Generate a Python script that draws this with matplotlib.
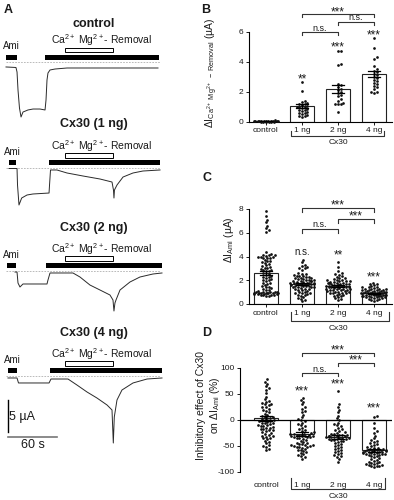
import numpy as np
import matplotlib
matplotlib.use('Agg')
import matplotlib.pyplot as plt
from matplotlib.patches import Rectangle
from matplotlib.lines import Line2D

plt.rcParams['font.family'] = ['Liberation Sans', 'DejaVu Sans']
plt.rcParams['mathtext.fontset'] = 'custom'
plt.rcParams['mathtext.rm'] = 'Liberation Sans'
plt.rcParams['mathtext.it'] = 'Liberation Sans:italic'
plt.rcParams['mathtext.bf'] = 'Liberation Sans:bold'
plt.rcParams['mathtext.default'] = 'regular'

# ---------------- Panel A data: current traces (time in s, current in µA rel. to baseline)
trace_names = ['control', 'Cx30 (1 ng)', 'Cx30 (2 ng)', 'Cx30 (4 ng)']
t_control = [0, 12.2, 13.5, 14.7, 16.5, 18.4, 20.8, 26.9, 33.1, 41.6, 47.8, 49.0, 50.2, 51.4, 53.9, 60.0, 74.7, 115.1, 186.1]
i_control = [-0.73, -0.81, -1.52, -4.33, -7.14, -8.55, -7.77, -7.45, -7.30, -7.30, -7.45, -5.89, -2.77, -1.67, -1.20, -1.05, -0.89, -0.89, -0.89]
t_1ng = [3.7, 13.5, 14.1, 15.9, 19.2, 25.7, 33.1, 52.7, 53.3, 54.5, 62.4, 74.7, 94.3, 115.1, 129.8, 131.6, 132.2, 132.8, 135.9, 143.3, 155.5, 167.7, 188.6]
i_1ng = [-0.08, -0.08, -2.66, -5.78, -4.69, -4.22, -4.06, -3.91, -2.66, -0.31, -0.31, -0.78, -1.25, -1.72, -2.19, -3.44, -4.69, -3.44, -2.66, -1.41, -0.78, -0.47, -0.31]
t_2ng = [11.0, 13.5, 14.7, 17.1, 20.8, 35.5, 50.2, 51.4, 53.9, 66.1, 82.0, 90.6, 102.8, 115.1, 127.3, 131.0, 132.2, 133.4, 134.7, 139.6, 151.8, 164.0, 179.9, 191.0]
i_2ng = [-0.16, -0.16, -1.88, -2.5, -2.03, -2.03, -2.03, -1.41, -0.31, -0.31, -0.31, -0.94, -2.19, -2.97, -3.75, -4.53, -6.25, -5.0, -4.53, -2.97, -1.72, -0.94, -0.47, -0.31]
t_4ng = [2.4, 13.5, 15.3, 23.3, 52.7, 55.1, 75.9, 86.9, 99.2, 111.4, 123.7, 129.8, 131.4, 132.6, 135.9, 142.0, 155.5, 172.7, 191.0]
i_4ng = [-0.31, -0.31, -1.09, -1.09, -1.09, -0.47, -0.47, -1.41, -2.5, -3.44, -4.53, -5.31, -10.47, -6.41, -3.75, -2.19, -1.09, -0.47, -0.31]
ami_periods = [(0, 13.5), (3.7, 12.2), (1.2, 12.2), (2.4, 13.5)]
perfusion_periods = [(47.7, 187.3), (52.6, 188.6), (49.0, 191.0), (53.9, 191.0)]
removal_period = (72.2, 131.0)
baseline_span = (0, 188)
scale_current = 5   # µA
scale_time = 60     # s

# ---------------- Panels B-D data
categories = ['control', '1 ng', '2 ng', '4 ng']

b_control = [0.08, 0.06, 0.05, 0.05, 0.04, 0.04, 0.03, 0.03, 0.02, 0.02, 0.02, 0.01, 0.01, 0.0, 0.0, -0.01, -0.02, -0.03, -0.04]
b_1ng = [2.65, 2.05, 1.35, 1.3, 1.25, 1.2, 1.15, 1.1, 1.05, 1.0, 1.0, 0.95, 0.9, 0.85, 0.8, 0.75, 0.7, 0.65, 0.6, 0.55, 0.5, 0.45, 0.4, 0.35, 0.3]
b_2ng = [4.75, 4.7, 3.85, 3.8, 2.5, 2.45, 2.3, 2.2, 2.1, 2.0, 1.9, 1.8, 1.7, 1.5, 1.4, 1.25, 1.2, 1.2, 1.15, 0.65]
b_4ng = [5.6, 4.9, 4.3, 4.2, 3.7, 3.5, 3.4, 3.3, 3.2, 3.1, 3.0, 2.9, 2.8, 2.7, 2.6, 2.5, 2.4, 2.3, 2.2, 2.0, 1.95, 1.9]
b_means = [0.02, 1.02, 2.18, 3.17]
b_sems = [0.01, 0.12, 0.25, 0.22]

c_control = [7.8, 7.4, 7.1, 6.9, 6.6, 6.4, 6.2, 6.1,
             4.4, 4.2, 4.15, 4.1, 4.1, 4.05, 4.0, 4.0, 3.95, 3.9, 3.9, 3.85,
             3.7, 3.65, 3.6, 3.5, 3.45, 3.4,
             3.25, 3.2, 3.1, 3.05, 3.0, 2.95, 2.9, 2.85, 2.8, 2.8,
             2.6, 2.5, 2.45, 2.4, 2.3, 2.25, 2.2, 2.1, 2.05, 2.0,
             1.9, 1.8, 1.75, 1.7, 1.6, 1.5, 1.45, 1.4, 1.35, 1.3,
             1.2, 1.15, 1.1, 1.05, 1.0, 1.0, 0.95, 0.95, 0.9, 0.9, 0.85, 0.85, 0.8, 0.75, 0.7, 0.65,
             0.8, 0.85, 0.9, 0.95, 1.0, 0.8, 0.9, 1.0, 0.85, 0.95]
c_1ng = [3.7, 3.5, 3.25, 3.2, 3.1, 3.05, 3.0, 2.9,
         2.6, 2.55, 2.5, 2.45, 2.4, 2.4, 2.35, 2.3,
         2.25, 2.2, 2.2, 2.15, 2.1, 2.1, 2.05, 2.0, 2.0, 1.95, 1.95, 1.9, 1.9, 1.85, 1.85, 1.8, 1.8, 1.8,
         1.75, 1.75, 1.7, 1.7, 1.7, 1.65, 1.65, 1.6, 1.6, 1.55, 1.55, 1.5, 1.5, 1.45, 1.45, 1.4, 1.4, 1.35, 1.3, 1.3,
         1.25, 1.2, 1.15, 1.1, 1.05, 1.0, 0.95, 0.9, 0.9, 0.85, 0.8, 0.8,
         0.7, 0.6, 0.5, 0.45, 0.35, 0.25]
c_2ng = [3.5, 3.1, 2.75, 2.6, 2.5, 2.45, 2.35, 2.3, 2.2, 2.15, 2.1, 2.05, 2.0, 2.0, 1.95, 1.9, 1.9, 1.85, 1.85,
         1.8, 1.8, 1.75, 1.75, 1.7, 1.7, 1.65, 1.65, 1.6, 1.6, 1.6, 1.55, 1.55, 1.5, 1.5, 1.5, 1.45, 1.45, 1.4,
         1.4, 1.35, 1.35, 1.3, 1.3, 1.25, 1.25, 1.2, 1.2, 1.15, 1.15, 1.1, 1.1, 1.05, 1.0, 1.0, 0.95, 0.95, 0.9,
         0.9, 0.85, 0.8, 0.75, 0.7, 0.65, 0.6, 0.5, 0.4, 0.35]
c_4ng = [1.8, 1.7, 1.7, 1.6, 1.5, 1.45, 1.4, 1.4, 1.35, 1.3, 1.3, 1.25, 1.25, 1.2, 1.2, 1.15, 1.15, 1.1, 1.1,
         1.1, 1.05, 1.05, 1.0, 1.0, 1.0, 0.95, 0.95, 0.95, 0.9, 0.9, 0.9, 0.9, 0.85, 0.85, 0.85, 0.8, 0.8, 0.8,
         0.8, 0.75, 0.75, 0.75, 0.7, 0.7, 0.7, 0.65, 0.65, 0.6, 0.6, 0.55, 0.55, 0.5, 0.5, 0.45, 0.4, 0.35, 0.3, 0.25]
c_means = [2.62, 1.72, 1.52, 0.92]
c_sems = [0.2, 0.08, 0.07, 0.04]

d_control = [78, 74, 70, 65, 62, 58, 52, 45, 40, 36, 32, 30, 28, 25, 22, 20, 18, 15, 12, 10, 8, 6, 5, 3, 2, 0,
             -1, -2, -3, -5, -6, -8, -10, -11, -12, -14, -15, -17, -18, -20, -22, -24, -25, -27, -28, -30, -32,
             -34, -35, -37, -40, -42, -45, -48, -50, -52, -55, -58, 4, 0, -5, -10, -15, 25, 30, 35, -20, -30]
d_1ng = [42, 38, 35, 30, 25, 22, 18, 15, 10, 5, 2, 0, -2, -5, -8, -10, -12, -15, -18, -20, -22, -24, -25, -26,
         -27, -28, -28, -29, -30, -30, -31, -32, -33, -34, -35, -36, -38, -40, -42, -44, -45, -46, -47, -48, -49,
         -50, -50, -51, -52, -53, -55, -57, -58, -60, -62, -64, -66, -68, -70, -72, -75, -26, -28, -30, -32, -48, -52]
d_2ng = [55, 30, 25, 20, 15, 8, 3, 0, -5, -8, -10, -12, -15, -18, -20, -22, -24, -25, -26, -27, -28, -29, -30, -30,
         -31, -32, -33, -34, -35, -36, -37, -38, -39, -40, -42, -44, -46, -48, -50, -52, -54, -56, -58, -60, -62,
         -64, -66, -68, -70, -72, -75, -80, -28, -30, -32, -34, -36, -40]
d_4ng = [8, 5, -5, -15, -22, -25, -30, -35, -38, -40, -42, -45, -47, -48, -50, -52, -53, -54, -55, -56, -57, -58,
         -58, -59, -60, -60, -61, -62, -62, -63, -64, -65, -65, -66, -67, -68, -69, -70, -72, -74, -75, -76, -78,
         -80, -81, -82, -83, -84, -85, -86, -87, -88, -88, -89, -90, -60, -62, -64, -66, -58]
d_means = [3, -27, -33, -58]
d_sems = [4, 4, 4, 3]

b_stars = ['', '**', '***', '***']
c_stars = ['', 'n.s.', '**', '***']
d_stars = ['', '***', '***', '***']

# ---------------- layout helpers
W, H = 394, 500
fig = plt.figure(figsize=(W / 100, H / 100), dpi=100)
TXT = '#1a1a1a'
STAR_FS = 8.5


def fx(x):
    return x / W


def fy(y):
    return 1 - y / H


def add_ax(x0, y0, x1, y1):
    return fig.add_axes([x0 / W, 1 - y1 / H, (x1 - x0) / W, (y1 - y0) / H])


def fig_line(xs, ys, **kw):
    fig.add_artist(Line2D([fx(x) for x in xs], [fy(y) for y in ys], transform=fig.transFigure, **kw))


# ---------------- Panel A
PXS = 49 / 60.0   # px per second
PXU = 32 / 5.0    # px per µA
traces = [(t_control, i_control), (t_1ng, i_1ng), (t_2ng, i_2ng), (t_4ng, i_4ng)]
a_layout = [(30, 122, 62.3, 24), (138, 212, 168, 124), (238, 318, 271, 228), (342, 456, 376, 333)]
fig.text(fx(8), fy(10), 'A', fontsize=9, fontweight='bold', ha='center', va='center', color=TXT)
for k, ((tt, ii), (top, bot, base, ty)) in enumerate(zip(traces, a_layout)):
    ax = add_ax(0, top, 170, bot)
    ax.set_xlim(-6 / PXS, 164 / PXS)
    ax.set_ylim(-(bot - base) / PXU, (base - top) / PXU)
    ax.axis('off')
    ax.plot(baseline_span, [0, 0], ls=(0, (2, 1.5)), color='#b0b0b0', lw=0.6)
    ax.plot(tt, ii, color='#2a2a2a', lw=0.7)
    a0, a1 = ami_periods[k]
    p0, p1 = perfusion_periods[k]
    ax.add_patch(Rectangle((a0, 0.4), a1 - a0, 0.8, color='k', lw=0))
    ax.add_patch(Rectangle((p0, 0.4), p1 - p0, 0.8, color='k', lw=0))
    r0, r1 = removal_period
    ax.add_patch(Rectangle((r0, 1.55), r1 - r0, 0.75, facecolor='white', edgecolor='k', lw=0.7))
    ax.text((a0 + a1) / 2, 2.55, 'Ami', ha='center', va='center', fontsize=7, color=TXT)
    ax.text(117.5, 3.4, r'Ca$^{2+}$ Mg$^{2+}$- Removal', ha='center', va='center', fontsize=7.5, color=TXT)
    fig.text(fx(94), fy(ty), trace_names[k], ha='center', va='center', fontsize=9, fontweight='bold', color=TXT)
    if k == 3:
        x0 = (8 - 6) / PXS
        ax.plot([x0, x0], [-(400 - base) / PXU, -(400 - base) / PXU - scale_current], color='k', lw=1.0)
        yh = -(437 - base) / PXU
        ax.plot([x0, x0 + scale_time], [yh, yh], color='#777777', lw=1.2)
        ax.text(x0 + 1.5, -(417 - base) / PXU, '5 µA', fontsize=9, ha='left', va='center', color=TXT)
        ax.text(x0 + 30, -(445 - base) / PXU, '60 s', fontsize=9, ha='center', va='center', color=TXT)


# ---------------- Panels B-D
def swarm(ax, xc, values, dot=2.7, step=1.35, maxhalf=13):
    vals = np.asarray(values, dtype=float)
    pts = ax.transData.transform(np.column_stack([np.full(len(vals), xc), vals]))
    ys = pts[:, 1]
    x0px = pts[0, 0]
    order = np.argsort(ys)
    placed = []
    offs = np.zeros(len(vals))
    for i in order:
        y = ys[i]
        best = None
        for kk in range(0, 40):
            cands = [0.0] if kk == 0 else [kk * step, -kk * step]
            ok = None
            for c in cands:
                if abs(c) > maxhalf:
                    continue
                if all((c - px) ** 2 + (y - py) ** 2 >= dot ** 2 for px, py in placed if abs(py - y) < dot):
                    ok = c
                    break
            if ok is not None:
                best = ok
                break
        if best is None:
            best = ((len(placed) * 7) % (2 * maxhalf)) - maxhalf
        placed.append((best, y))
        offs[i] = best
    xs_px = x0px + offs
    back = ax.transData.inverted().transform(np.column_stack([xs_px, ys]))
    return back[:, 0]


def bar_panel(ax, groups, means, sems, ylim, yticks, yticklabels):
    xs = np.arange(len(categories))
    ax.set_ylim(*ylim)
    ax.bar(xs, means, width=0.68, facecolor='white', edgecolor='#222222', lw=0.8, zorder=1)
    for x, g in zip(xs, groups):
        px = swarm(ax, x, g)
        ax.scatter(px, g, s=3.8, color='#111111', lw=0, zorder=3, clip_on=False)
    for x, m, s in zip(xs, means, sems):
        ax.plot([x, x], [m - s, m + s], color='k', lw=0.9, zorder=4)
        for yy in (m - s, m + s):
            ax.plot([x - 0.16, x + 0.16], [yy, yy], color='k', lw=0.9, zorder=4)
    ax.spines['top'].set_visible(False)
    ax.spines['right'].set_visible(False)
    ax.spines['left'].set_linewidth(0.8)
    ax.spines['bottom'].set_linewidth(0.8)
    ax.set_yticks(yticks)
    ax.set_yticklabels(yticklabels)
    ax.set_xticks(xs)
    ax.set_xticklabels(categories)
    ax.tick_params(axis='y', length=2.5, width=0.7, labelsize=6, pad=1.5, colors=TXT)
    ax.tick_params(axis='x', length=2, width=0.7, labelsize=6, pad=2, colors=TXT)


def sig(ax, x0, x1, y, leg, text, ty):
    ax.plot([x0, x0, x1, x1], [y - leg, y, y, y - leg], color='#333333', lw=0.8, clip_on=False)
    fs = STAR_FS if text.startswith('*') else 6.5
    ax.text((x0 + x1) / 2, ty, text, ha='center', va='center', fontsize=fs, color=TXT)


def stars(ax, labels, ys, shift):
    for x, s, yy in zip(range(4), labels, ys):
        if s:
            if s.startswith('*'):
                ax.text(x, yy - shift, s, ha='center', va='center', fontsize=STAR_FS, color=TXT)
            else:
                ax.text(x, yy, s, ha='center', va='center', fontsize=7, color=TXT)


# B
axB = add_ax(249, 32, 392, 121.5)
axB.set_xlim(-(266 - 249) / 36.0, 3.5)
bar_panel(axB, [b_control, b_1ng, b_2ng, b_4ng], b_means, b_sems, (0, 6), [0, 2, 4, 6], ['0', '2', '4', '6'])
sig(axB, 1, 3, 7.18, 0.2, '***', 7.3)
sig(axB, 2, 3, 6.64, 0.2, 'n.s.', 6.95)
sig(axB, 1, 2, 5.97, 0.2, 'n.s.', 6.25)
stars(axB, b_stars, [0, 3.0, 5.1, 5.9], 0.15)
fig.text(fx(206), fy(10), 'B', fontsize=9, fontweight='bold', ha='center', va='center', color=TXT)
fig.text(fx(212), fy(73), r'$\Delta$I$_{Ca^{2+}\ Mg^{2+}\ -\ Removal}$ (µA)', rotation=90,
         ha='center', va='center', fontsize=7.5, color=TXT)
fig_line([291, 291, 384, 384], [131, 136, 136, 131], color='#333333', lw=0.8)
fig.text(fx(338), fy(143), 'Cx30', fontsize=6, ha='center', va='center', color=TXT)

# C
axC = add_ax(249, 209, 392, 304)
axC.set_xlim(-(266 - 249) / 36.0, 3.5)
bar_panel(axC, [c_control, c_1ng, c_2ng, c_4ng], c_means, c_sems, (0, 8), [0, 2, 4, 6, 8], ['0', '2', '4', '6', '8'])
sig(axC, 1, 3, 8.08, 0.3, '***', 8.3)
sig(axC, 2, 3, 7.16, 0.3, '***', 7.35)
sig(axC, 1, 2, 6.32, 0.3, 'n.s.', 6.7)
stars(axC, c_stars, [0, 4.4, 4.25, 2.35], 0.15)
fig.text(fx(207), fy(178), 'C', fontsize=9, fontweight='bold', ha='center', va='center', color=TXT)
fig.text(fx(229), fy(240), r'$\Delta$I$_{Ami}$ (µA)', rotation=90, ha='center', va='center', fontsize=7.5, color=TXT)
fig_line([291, 291, 389, 389], [312, 321, 321, 312], color='#333333', lw=0.8)
fig.text(fx(338), fy(328), 'Cx30', fontsize=6, ha='center', va='center', color=TXT)

# D
axD = add_ax(240, 368, 392, 472)
axD.set_xlim(-(266 - 240) / 36.0, 3.5)
bar_panel(axD, [d_control, d_1ng, d_2ng, d_4ng], d_means, d_sems, (-100, 100), [-100, -50, 0, 50, 100],
          ['-100', '-50', '0', '50', '100'])
axD.spines['bottom'].set_visible(False)
axD.axhline(0, color='k', lw=0.9, zorder=5)
axD.tick_params(axis='x', length=0, pad=7)
sig(axD, 1, 3, 128.8, 6, '***', 133)
sig(axD, 2, 3, 109.6, 6, '***', 114)
sig(axD, 1, 2, 90.4, 6, 'n.s.', 98)
stars(axD, d_stars, [0, 58, 71, 25], 3)
fig.text(fx(207), fy(333), 'D', fontsize=9, fontweight='bold', ha='center', va='center', color=TXT)
fig.text(fx(209), fy(405), 'Inhibitory effect of Cx30\n' + r'on $\Delta$I$_{Ami}$ (%)', rotation=90,
         ha='center', va='center', fontsize=7.5, color=TXT, linespacing=1.1, multialignment='center')
fig_line([291, 291, 385, 385], [478, 489, 489, 478], color='#333333', lw=0.8)
fig.text(fx(338), fy(496), 'Cx30', fontsize=6, ha='center', va='center', color=TXT)

fig.savefig('out.png', dpi=100)
